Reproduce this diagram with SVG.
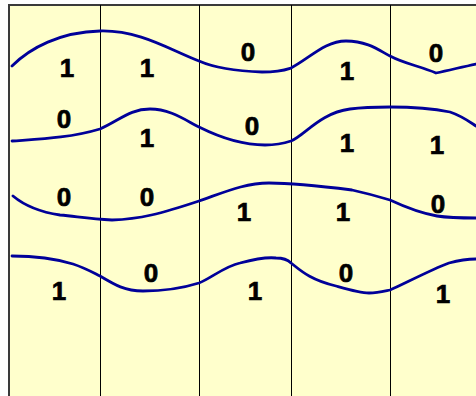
<svg xmlns="http://www.w3.org/2000/svg" width="476" height="396" viewBox="0 0 476 396">
<style>
.bg{fill:#FFFFCC}
.frame{fill:none;stroke:#3a3a3a;stroke-width:2}
.col{stroke:#000;stroke-width:1}
.wave{fill:none;stroke:#000099;stroke-width:2.8;stroke-linecap:round;stroke-linejoin:round}
.bit{font-family:"Liberation Sans",Arial,sans-serif;font-weight:bold;font-size:26px;fill:#000;stroke:#000;stroke-width:0.7;text-anchor:middle}
</style>
<rect x="0" y="0" width="476" height="396" fill="#FFFFFF"/>
<rect class="bg" x="9" y="5" width="470" height="395"/>
<path class="frame" d="M9,400 V5 H480"/>
<g id="columns">
<line class="col" x1="100.5" y1="5" x2="100.5" y2="396"/>
<line class="col" x1="199.5" y1="5" x2="199.5" y2="396"/>
<line class="col" x1="291.5" y1="5" x2="291.5" y2="396"/>
<line class="col" x1="390.5" y1="5" x2="390.5" y2="396"/>
</g>
<g id="connectors">
<path class="wave" d="M12,66 C30,48 60,32 100,31 C140,30 170,50 199,61 C215,68 235,71 262,72 C280,72 285,70 291,68 C310,58 325,41 346,41 C368,41 380,51 390,56 C405,64 420,66 436,73 C450,70 462,67 476,64"/>
<path class="wave" d="M12,141 C40,139 70,138 100,129 C120,120 130,109 150,109 C170,109 185,120 199,127 C215,135 240,145 265,145 C278,145 285,143 291,141 C305,135 320,113 350,109 C365,107 380,107 390,107 C420,107 440,110 450,112 C462,116 470,122 476,126"/>
<path class="wave" d="M13,196 C25,206 40,212 60,215 C80,217 90,219 112,220 C140,219 160,214 199,201 C225,192 245,183 269,183 C285,183 320,186 352,190 C370,194 380,197 390,200 C405,207 420,213 437,216 C450,218 465,218 476,218"/>
<path class="wave" d="M12,256 C30,256 50,257 73,264 C85,268 92,272 100,276 C115,285 125,291 143,291 C160,291 180,289 199,283 C210,279 225,266 240,263 C255,259 268,257 276,258 C283,258 288,260 291,263 C300,270 310,280 336,286 C350,290 360,293 369,293 C378,293 385,291 390,290 C400,286 430,270 449,263 C460,260 468,259 476,259"/>
</g>
<g id="row1">
<text class="bit" x="67" y="77">1</text>
<text class="bit" x="147" y="77">1</text>
<text class="bit" x="248" y="61">0</text>
<text class="bit" x="347" y="80">1</text>
<text class="bit" x="436" y="62">0</text>
</g>
<g id="row2">
<text class="bit" x="64" y="128">0</text>
<text class="bit" x="147" y="147">1</text>
<text class="bit" x="252" y="135">0</text>
<text class="bit" x="347" y="152">1</text>
<text class="bit" x="437" y="154">1</text>
</g>
<g id="row3">
<text class="bit" x="64" y="206">0</text>
<text class="bit" x="147" y="206">0</text>
<text class="bit" x="244" y="221">1</text>
<text class="bit" x="343" y="221">1</text>
<text class="bit" x="438" y="213">0</text>
</g>
<g id="row4">
<text class="bit" x="59" y="300">1</text>
<text class="bit" x="151" y="282">0</text>
<text class="bit" x="255" y="300">1</text>
<text class="bit" x="346" y="282">0</text>
<text class="bit" x="443" y="303">1</text>
</g>
</svg>
